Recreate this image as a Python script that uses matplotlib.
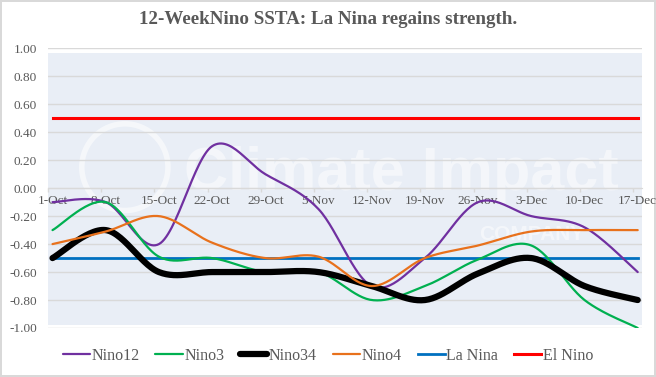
import numpy as np
import matplotlib
matplotlib.use("Agg")
import matplotlib.pyplot as plt
from matplotlib.patches import Rectangle, Ellipse

dates = ["1-Oct", "8-Oct", "15-Oct", "22-Oct", "29-Oct", "5-Nov",
         "12-Nov", "19-Nov", "26-Nov", "3-Dec", "10-Dec", "17-Dec"]
nino12 = [-0.10, -0.10, -0.40, 0.30, 0.10, -0.15, -0.70, -0.50, -0.10, -0.20, -0.28, -0.60]
nino3 = [-0.30, -0.10, -0.49, -0.50, -0.60, -0.60, -0.80, -0.70, -0.51, -0.41, -0.80, -1.00]
nino34 = [-0.50, -0.30, -0.60, -0.60, -0.60, -0.60, -0.70, -0.80, -0.61, -0.50, -0.70, -0.80]
nino4 = [-0.40, -0.31, -0.20, -0.39, -0.50, -0.49, -0.70, -0.50, -0.41, -0.31, -0.30, -0.30]
la_nina = [-0.5] * 12
el_nino = [0.5] * 12
yticks = [1.0, 0.8, 0.6, 0.4, 0.2, 0.0, -0.2, -0.4, -0.6, -0.8, -1.0]

GRAY = "#595959"
GRID = "#d9d9d9"


def smooth(y, n=30):
    """Excel-like smoothed line (Catmull-Rom Bezier) through the points."""
    y = np.asarray(y, float)
    x = np.arange(len(y), dtype=float)
    P = np.column_stack([x, y])
    P_ext = np.vstack([P[0], P, P[-1]])
    xs, ys = [], []
    t = np.linspace(0, 1, n)
    for i in range(len(P) - 1):
        p0, p3 = P[i], P[i + 1]
        p1 = p0 + (P_ext[i + 2] - P_ext[i]) / 6.0
        p2 = p3 - (P_ext[i + 3] - P_ext[i + 1]) / 6.0
        b = ((1 - t) ** 3)[:, None] * p0 + (3 * (1 - t) ** 2 * t)[:, None] * p1 \
            + (3 * (1 - t) * t ** 2)[:, None] * p2 + (t ** 3)[:, None] * p3
        xs.append(b[:, 0]); ys.append(b[:, 1])
    return np.concatenate(xs), np.concatenate(ys)


plt.rcParams["font.family"] = ["Liberation Serif", "DejaVu Serif"]

fig = plt.figure(figsize=(6.56, 3.77), dpi=100)
fig.patch.set_edgecolor(GRID)
fig.patch.set_linewidth(1.5)

ax = fig.add_axes([48 / 656, 1 - 328 / 377, (641.7 - 48) / 656, (328 - 48.3) / 377])
ax.set_xlim(-0.085, 11.075)
ax.set_ylim(-1, 1)

# plot-area background
ax.add_patch(Rectangle((-0.085, -0.979), 11.16, 0.979 + 0.966, facecolor="#e9eef6",
                       edgecolor="none", zorder=0.2))

# faint watermark (logo ring + company name)
ax.add_patch(Ellipse((1.36, 0.15), 1.62, 0.62, facecolor="none", edgecolor="white",
                     linewidth=4, alpha=0.55, zorder=0.3))
ax.text(2.48, -0.01, "Climate Impact", fontsize=44, fontweight="bold",
        family=["Liberation Sans", "DejaVu Sans"], color="white", alpha=0.5,
        ha="left", va="baseline", zorder=0.3)
ax.text(9.0, -0.37, "COMPANY", fontsize=15, fontweight="bold",
        family=["Liberation Sans", "DejaVu Sans"], color="white", alpha=0.5,
        ha="center", va="baseline", zorder=0.3)

ax.set_axisbelow(True)
ax.yaxis.grid(True, color=GRID, linewidth=1.0)
ax.set_yticks(yticks)
ax.set_yticklabels([f"{v:.2f}" for v in yticks])
ax.tick_params(axis="y", length=0, pad=8, labelsize=9.5, labelcolor=GRAY)

for s in ["left", "top", "right"]:
    ax.spines[s].set_visible(False)
ax.spines["bottom"].set_position(("data", 0))
ax.spines["bottom"].set_color(GRID)
ax.spines["bottom"].set_zorder(0.5)

xpos = np.arange(len(dates))
ax.set_xticks(xpos)
ax.set_xticklabels(dates)
ax.set_xticks(xpos - 0.085, minor=True)
ax.tick_params(axis="x", which="major", length=0, pad=5, labelsize=9.5, labelcolor=GRAY)
ax.tick_params(axis="x", which="minor", length=3, color=GRID, width=1)

series = [
    ("Nino12", nino12, "#7030a0", 1.6),
    ("Nino3", nino3, "#00b050", 1.6),
    ("Nino34", nino34, "#000000", 4.5),
    ("Nino4", nino4, "#e8711c", 1.6),
]
for name, vals, col, lw in series:
    sx, sy = smooth(vals)
    ax.plot(sx, sy, color=col, linewidth=lw, label=name, solid_capstyle="round", zorder=3)

ax.plot(xpos, la_nina, color="#0070c0", linewidth=2.0, label="La Nina", zorder=2.5)
ax.plot(xpos, el_nino, color="#ff0000", linewidth=2.2, label="El Nino", zorder=2.5)

fig.text(0.5, 1 - 20 / 377, "12-WeekNino SSTA: La Nina regains strength.",
         ha="center", va="center", fontsize=13.7, fontweight="bold", color=GRAY)

handles, labels = ax.get_legend_handles_labels()
leg = fig.legend(handles, labels, loc="center", bbox_to_anchor=(0.5, 1 - 356 / 377),
                 ncol=6, frameon=False, fontsize=11.5, handlelength=1.7,
                 handletextpad=0.1, columnspacing=1.0, labelcolor=GRAY)

fig.savefig("out.png", dpi=100)
